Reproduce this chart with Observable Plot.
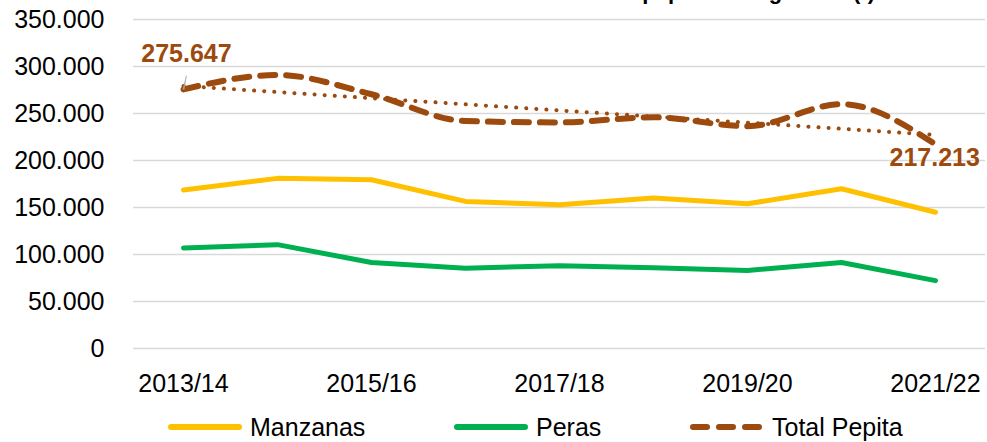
<!DOCTYPE html>
<html>
<head>
<meta charset="utf-8">
<script src="https://cdn.jsdelivr.net/npm/d3@7"></script>
<script src="https://cdn.jsdelivr.net/npm/@observablehq/plot@0.6"></script>
<style>
  html, body { margin: 0; padding: 0; background: #fff; }
  body { width: 987px; height: 442px; overflow: hidden; position: relative; font-family: "Liberation Sans", Arial, sans-serif; }
  #title { position: absolute; top: -19px; right: 112px; font-size: 22px; line-height: 22px; font-weight: bold; color: #000; white-space: nowrap; }
  #chart { position: absolute; left: 0; top: 0; }
  #legend { position: absolute; top: 410px; left: 0; width: 987px; height: 34px; }
  .item { position: absolute; top: 0; height: 34px; display: flex; align-items: center; font-size: 25px; color: #000; }
  .item svg { margin-right: 8px; }
</style>
</head>
<body>
<div id="title">Producción de frutas de pepita en Argentina (t)</div>
<div id="chart"></div>
<div id="legend"></div>
<script>
const seasons = ["2013/14","2014/15","2015/16","2016/17","2017/18","2018/19","2019/20","2020/21","2021/22"];
const manzanas = [168600, 181000, 179500, 156500, 153000, 160000, 154000, 170000, 145000];
const peras    = [107000, 110500, 91500, 85500, 88000, 86000, 83000, 91500, 72213];
const total    = [275647, 291000, 270500, 242000, 240500, 246000, 236500, 260000, 217213];
const xTickLabels = ["2013/14","2015/16","2017/18","2019/20","2021/22"];
const yTicks = [0, 50000, 100000, 150000, 200000, 250000, 300000, 350000];
const seriesNames = ["Manzanas", "Peras", "Total Pepita"];
const seriesColors = ["#FFC000", "#00B050", "#9C4A0E"];

const fmt = d3.formatLocale({decimal: ",", thousands: ".", grouping: [3], currency: ["", ""]}).format(",");

const rows = (vals) => seasons.map((s, i) => ({season: s, value: vals[i]}));
const manzData = rows(manzanas);
const perasData = rows(peras);
const totalData = rows(total);

// linear trend (least squares) of total
const n = total.length;
const mx = d3.mean(total, (d, i) => i);
const my = d3.mean(total);
const slope = d3.sum(total, (d, i) => (i - mx) * (d - my)) / d3.sum(total, (d, i) => (i - mx) ** 2);
const trendData = seasons.map((s, i) => ({season: s, value: my + slope * (i - mx)}));

const labelData = [totalData[0], totalData[n - 1]];
const brown = seriesColors[2];

const chart = Plot.plot({
  width: 987,
  height: 405,
  marginLeft: 133,
  marginRight: 2,
  marginTop: 19,
  marginBottom: 57,
  style: {fontFamily: "'Liberation Sans', Arial, sans-serif", fontSize: "25px", color: "#000", background: "transparent"},
  x: {type: "point", domain: seasons, padding: 0.5, axis: null},
  y: {domain: [0, 350000], axis: null},
  marks: [
    Plot.gridY(yTicks, {stroke: "#d9d9d9", strokeOpacity: 1, strokeWidth: 1.5}),
    Plot.axisY(yTicks, {tickSize: 0, tickPadding: 29, tickFormat: fmt, fontSize: 25, fill: "#000", label: null}),
    Plot.axisX(xTickLabels, {tickSize: 0, tickPadding: 26, fontSize: 25, fill: "#000", label: null}),
    Plot.line(trendData, {x: "season", y: "value", stroke: brown, strokeWidth: 4, strokeDasharray: "0.1,10", strokeLinecap: "round"}),
    Plot.line(totalData, {x: "season", y: "value", stroke: brown, strokeWidth: 6, strokeDasharray: "15,11", strokeLinecap: "round", strokeLinejoin: "round", curve: "monotone-x"}),
    Plot.line(manzData, {x: "season", y: "value", stroke: seriesColors[0], strokeWidth: 5, strokeLinejoin: "round", strokeLinecap: "round"}),
    Plot.line(perasData, {x: "season", y: "value", stroke: seriesColors[1], strokeWidth: 5, strokeLinejoin: "round", strokeLinecap: "round"}),
    Plot.vector([labelData[0]], {x: "season", y: "value", length: 14, rotate: 12, anchor: "start", shape: "spike", r: 0.6, fill: "#a6a6a6", stroke: "#a6a6a6", strokeWidth: 0.5}),
    Plot.text([labelData[0]], {x: "season", y: "value", text: d => fmt(d.value), dx: 3, dy: -35, fontSize: 25, fontWeight: "bold", fill: brown}),
    Plot.text([labelData[1]], {x: "season", y: "value", text: d => fmt(d.value), dy: 14, textAnchor: "start", fontSize: 25, fontWeight: "bold", fill: brown, dx: -46})
  ]
});
document.getElementById("chart").appendChild(chart);

// legend
const legend = document.getElementById("legend");
const legendLeft = [168, 454, 690];
seriesNames.forEach((name, i) => {
  const item = document.createElement("div");
  item.className = "item";
  item.style.left = legendLeft[i] + "px";
  const dashed = i === 2;
  item.innerHTML = `<svg width="74" height="10"><line x1="3" y1="5" x2="71" y2="5" stroke="${seriesColors[i]}" stroke-width="6" stroke-linecap="round" ${dashed ? 'stroke-dasharray="14,12"' : ''}/></svg><span>${name}</span>`;
  legend.appendChild(item);
});
</script>
</body>
</html>
